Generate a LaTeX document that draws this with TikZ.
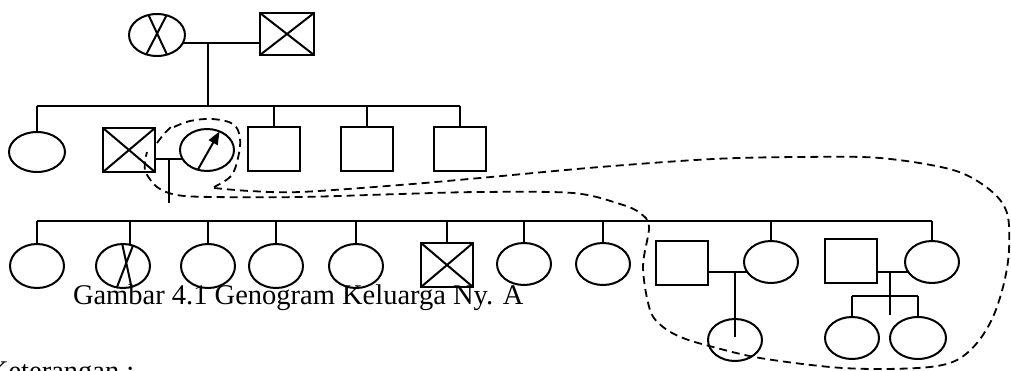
\documentclass[tikz,border=0pt]{standalone}
\usepackage{fontspec}
\setmainfont{Liberation Serif}
\usetikzlibrary{shapes.geometric,arrows.meta}
\begin{document}
\begin{tikzpicture}[x=1pt,y=-1pt,line width=2pt,
  fem/.style={draw,ellipse,inner sep=0pt,outer sep=0pt,minimum width=54pt,minimum height=42pt},
  mal/.style={draw,rectangle,inner sep=0pt,outer sep=0pt,minimum width=52pt,minimum height=44pt},
  lasso/.style={line width=1.8pt,dash pattern=on 8pt off 5pt},
  lbl/.style={font=\fontsize{28.5}{32}\selectfont,inner sep=0pt}]
\useasboundingbox (0,0) rectangle (1011,370);
\clip (0,0) rectangle (1011,370);
% generation 1
\node[fem,minimum width=56pt,minimum height=42pt] (gm) at (157,35) {};
\node[mal,minimum width=54pt,minimum height=42pt] (gf) at (287,34) {};
\draw (gm.113) -- (gm.-63) (gm.64) -- (gm.-119);
\draw (gf.north west) -- (gf.south east) (gf.north east) -- (gf.south west);
\draw (gm.-16) -- (gm.-16 -| gf.west);
\coordinate (m1) at (208,43);
\coordinate (sib2) at (0,106);
% generation 2
\node[fem,minimum width=56pt,minimum height=40pt] (a1) at (37,152) {};
\node[mal,minimum width=52pt,minimum height=44pt] (ah) at (129,150) {};
\node[fem,minimum width=54pt,minimum height=42pt] (nya) at (207,150) {};
\node[mal] (b3) at (274,149) {};
\node[mal] (b4) at (367,149) {};
\node[mal] (b5) at (460,149) {};
\draw (ah.north west) -- (ah.south east) (ah.north east) -- (ah.south west);
\draw[-{Triangle[length=13pt,width=10pt]}] (nya.-115) -- (nya.56);
\draw (m1) -- (m1 |- sib2);
\draw (a1.north |- sib2) -- (b5.north |- sib2);
\foreach \n in {a1,b3,b4,b5} \draw (\n.north |- sib2) -- (\n.north);
\coordinate (mA) at (169,159);
\coordinate (mAd) at (169,203);
\draw (ah.east |- nya.199) -- (nya.199);
\draw (mA) -- (mAd);
% generation 3
\coordinate (sib3) at (0,221);
\node[fem,minimum height=44pt] (c1) at (37,266) {};
\node[fem,minimum height=44pt] (c2) at (123,266) {};
\node[fem,minimum height=44pt] (c3) at (208,266) {};
\node[fem,minimum height=44pt] (c4) at (276,266) {};
\node[fem,minimum height=44pt] (c5) at (356,266) {};
\node[mal] (c6) at (447,265) {};
\node[fem] (c7) at (524,264) {};
\node[fem] (c8) at (603,264) {};
\node[mal] (s7) at (682,263) {};
\node[fem] (d7) at (771,262) {};
\node[mal] (s8) at (851,261) {};
\node[fem] (d8) at (932,262) {};
\draw (c2.92) -- (c2.-68) (c2.64) -- (c2.-106);
\draw (c6.north west) -- (c6.south east) (c6.north east) -- (c6.south west);
\draw (c1.north |- sib3) -- (d8.north |- sib3);
\draw (c2.73 |- sib3) -- (c2.73);
\foreach \n in {c1,c3,c4,c5,c6,c7,c8,d7,d8} \draw (\n.north |- sib3) -- (\n.north);
% generation 4
\node[fem,minimum width=54pt,minimum height=42pt] (g1) at (735,340) {};
\node[fem,minimum width=54pt,minimum height=42pt] (g2) at (852,338) {};
\node[fem,minimum width=56pt,minimum height=42pt] (g3) at (918,338) {};
\coordinate (m7) at (735,273);
\coordinate (m7d) at (735,337);
\draw (s7.east |- d7.202) -- (d7.202);
\draw (m7) -- (m7d);
\coordinate (m8) at (890,273);
\coordinate (m8d) at (890,315);
\coordinate (sib4) at (0,296);
\draw (s8.east |- d8.203) -- (d8.203);
\draw (m8) -- (m8d);
\draw (g2.north |- sib4) -- (g3.north |- sib4);
\foreach \n in {g2,g3} \draw (\n.north |- sib4) -- (\n.north);
% dashed lasso
\draw[lasso] plot[smooth,tension=0.6] coordinates {(157,143) (164,134) (172,126)};
\draw[lasso] plot[smooth,tension=0.6] coordinates {(174,127) (190,121) (212,119) (233,124) (240,138) (238,158) (231,176) (214,187)};
\draw[lasso] plot[smooth,tension=0.55] coordinates {(214,188) (250,191) (300,192) (400,185) (480,178) (600,167) (713,159) (800,157) (880,158) (953,170) (990,190) (1007,213) (1009,250) (1004,283) (993,317) (977,343) (957,360) (930,367) (880,369) (830,367) (760,358) (713,347) (683,338) (663,327) (650,310) (643,267) (649,227) (640,213) (620,204) (573,193) (480,192) (400,194) (300,197) (213,197) (177,195) (157,187) (145,170) (147,152)};
% texts
\node[lbl,anchor=base west] (cap) at (72,304) {Gambar 4.1 Genogram Keluarga Ny. A};
\node[lbl,anchor=base west] (ket) at (-13,380) {Keterangan :};
\end{tikzpicture}
\end{document}
